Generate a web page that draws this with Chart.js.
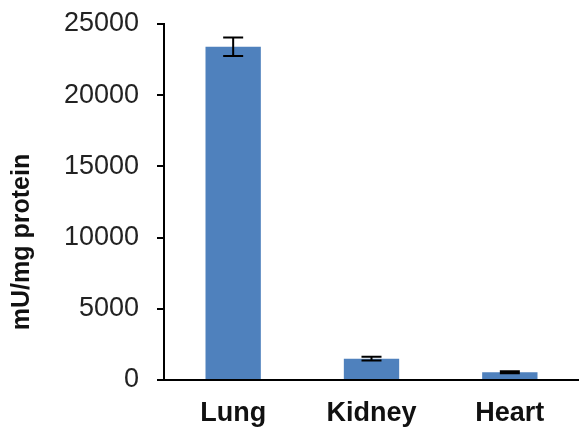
<!DOCTYPE html>
<html>
<head>
<meta charset="utf-8">
<script src="https://cdn.jsdelivr.net/npm/chart.js@4"></script>
<style>
  html, body { margin: 0; padding: 0; background: #fff; }
  #wrap { width: 579px; height: 430px; position: relative; }
</style>
</head>
<body>
<div id="wrap"><canvas id="activityChart"></canvas></div>
<script>
var tissues = ['Lung', 'Kidney', 'Heart'];
var activity = [23400, 1500, 550];
var activityErr = [650, 130, 70];
var yTicks = [0, 5000, 10000, 15000, 20000, 25000];
var yTitle = 'mU/mg protein';

// draws +/- error bars on top of each bar
var errorBars = {
    id: 'errorBars',
    afterDatasetsDraw: function (chart) {
        var c = chart.ctx;
        var y = chart.scales.y;
        var meta = chart.getDatasetMeta(0);
        c.save();
        c.strokeStyle = '#000';
        c.lineWidth = 2;
        meta.data.forEach(function (bar, i) {
            var hi = y.getPixelForValue(activity[i] + activityErr[i]);
            var lo = y.getPixelForValue(activity[i] - activityErr[i]);
            var cap = 10;
            c.beginPath();
            c.moveTo(bar.x, hi); c.lineTo(bar.x, lo);
            c.moveTo(bar.x - cap, hi); c.lineTo(bar.x + cap, hi);
            c.moveTo(bar.x - cap, lo); c.lineTo(bar.x + cap, lo);
            c.stroke();
        });
        c.restore();
    }
};

// rotated y title, sits a bit below the axis middle like the original
var sideTitle = {
    id: 'sideTitle',
    afterDraw: function (chart) {
        var c = chart.ctx;
        c.save();
        c.translate(22, 242);
        c.rotate(-Math.PI / 2);
        c.fillStyle = '#111';
        c.font = 'bold 25px "Liberation Sans"';
        c.textAlign = 'center';
        c.textBaseline = 'middle';
        c.fillText(yTitle, 0, 0);
        c.restore();
    }
};

document.addEventListener('DOMContentLoaded', function () {
    var ctx = document.getElementById('activityChart').getContext('2d');
    new Chart(ctx, {
        type: 'bar',
        data: {
            labels: tissues,
            datasets: [{
                label: yTitle,
                data: activity,
                backgroundColor: '#4f81bd',
                borderWidth: 0,
                categoryPercentage: 1,
                barPercentage: 0.4
            }]
        },
        plugins: [errorBars, sideTitle],
        options: {
            responsive: true,
            maintainAspectRatio: false,
            animation: false,
            layout: { padding: { top: 24, right: 0, left: 0, bottom: 0 } },
            plugins: { legend: { display: false }, tooltip: { enabled: false } },
            scales: {
                x: {
                    grid: { display: false, drawTicks: false },
                    border: { display: true, color: '#000', width: 2 },
                    ticks: {
                        color: '#111',
                        padding: 17,
                        font: { family: 'Liberation Sans', size: 27, weight: 'bold' }
                    },
                    afterFit: function (s) { s.height = 50; }
                },
                y: {
                    min: 0,
                    max: 25000,
                    afterBuildTicks: function (s) {
                        s.ticks = yTicks.map(function (v) { return { value: v }; });
                    },
                    grid: {
                        drawOnChartArea: false,
                        drawTicks: true,
                        tickLength: 7,
                        color: '#000',
                        lineWidth: 2
                    },
                    border: { display: true, color: '#000', width: 2 },
                    ticks: {
                        color: '#222',
                        padding: 18,
                        font: { family: 'Liberation Sans', size: 27 },
                        callback: function (v) { return String(v); }
                    },
                    afterFit: function (s) {
                        s.width = 164;
                        s.paddingTop = 0;
                        s.paddingBottom = 0;
                    }
                }
            }
        }
    });
});
</script>
</body>
</html>
